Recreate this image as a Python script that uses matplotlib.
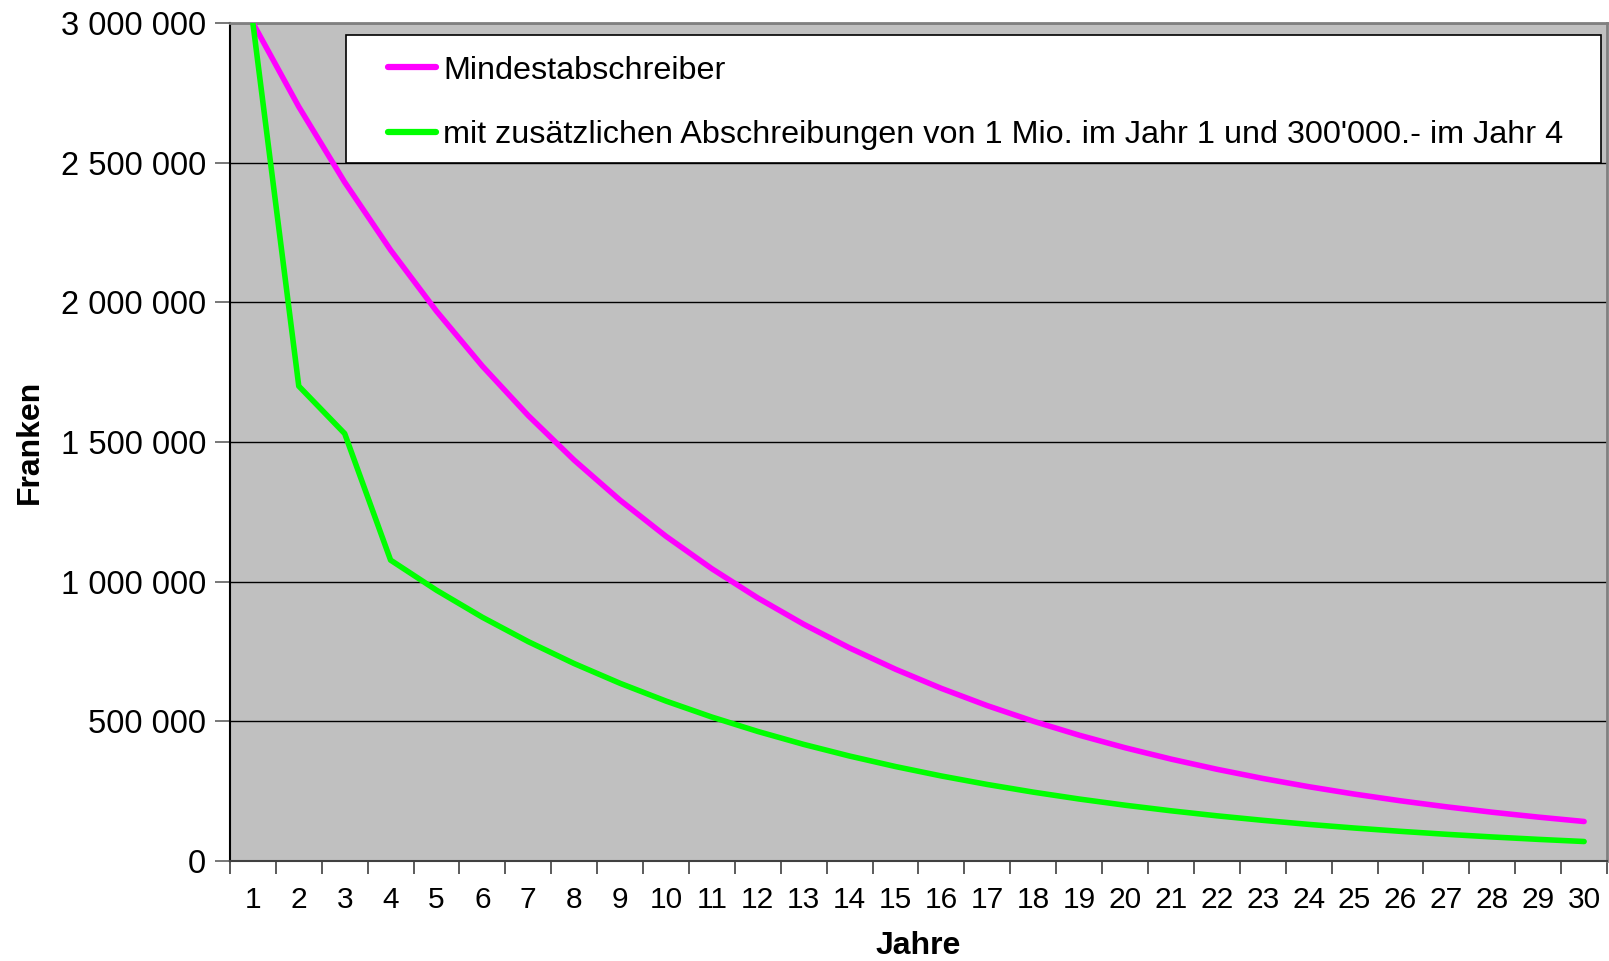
import numpy as np
import matplotlib
matplotlib.use("Agg")
import matplotlib.pyplot as plt
from matplotlib.patches import Rectangle
from matplotlib.ticker import FixedLocator, FuncFormatter, NullFormatter

plt.rcParams['font.family'] = ['Liberation Sans', 'DejaVu Sans']

# Buchwert in Franken pro Jahr
jahre = list(range(1, 31))
mindest = [3000000, 2700000, 2430000, 2187000, 1968300, 1771470, 1594323, 1434891,
           1291401, 1162261, 1046035, 941432, 847288, 762560, 686304, 617673,
           555906, 500315, 450284, 405256, 364730, 328257, 295431, 265888,
           239299, 215369, 193832, 174449, 157004, 141304]
zusaetzlich = [3000000, 1700000, 1530000, 1077000, 969300, 872370, 785133, 706620,
               635958, 572362, 515126, 463613, 417252, 375527, 337974, 304177,
               273759, 246383, 221745, 199570, 179613, 161652, 145487, 130938,
               117844, 106060, 95454, 85908, 77318, 69586]
labels = ["Mindestabschreiber",
          "mit zusätzlichen Abschreibungen von 1 Mio. im Jahr 1 und 300'000.- im Jahr 4"]
farben = ["#FF00FF", "#00FF00"]
y_ticks = [0, 500000, 1000000, 1500000, 2000000, 2500000, 3000000]

fig = plt.figure(figsize=(16.09, 9.61), dpi=100)
ax = fig.add_axes([0.1429, 0.1041, 0.8559, 0.8720])
ax.set_facecolor("#C0C0C0")

for serie, lab, col in zip([mindest, zusaetzlich], labels, farben):
    ax.plot(jahre, serie, color=col, lw=4.0, label=lab,
            solid_capstyle='round', solid_joinstyle='round', zorder=3)

ax.set_xlim(0.5, 30.5)
ax.set_ylim(0, 3000000)

# Kategorienachse: Striche zwischen den Jahren, Beschriftung in der Mitte
ax.xaxis.set_major_locator(FixedLocator(np.arange(0.5, 31, 1)))
ax.xaxis.set_major_formatter(NullFormatter())
ax.xaxis.set_minor_locator(FixedLocator(jahre))
ax.set_xticklabels([str(j) for j in jahre], minor=True)
ax.tick_params(axis='x', which='major', length=9, width=1.2, color='#404040', direction='out')
ax.tick_params(axis='x', which='minor', length=0, pad=18, labelsize=21.5)

ax.set_yticks(y_ticks)
ax.yaxis.set_major_formatter(FuncFormatter(lambda v, p: f"{int(v):,}".replace(",", " ")))
ax.tick_params(axis='y', length=11, width=1.2, color='#606060', pad=6, labelsize=23.5)

ax.grid(axis='y', color='black', lw=1.0, zorder=1)
ax.set_axisbelow(True)

ax.spines['left'].set_color('black')
ax.spines['left'].set_linewidth(1.5)
ax.spines['bottom'].set_color('#404040')
ax.spines['bottom'].set_linewidth(1.5)
for s in ['top', 'right']:
    ax.spines[s].set_color('#808080')
    ax.spines[s].set_linewidth(2)

ax.set_xlabel("Jahre", fontsize=23, fontweight='bold', va='center')
ax.set_ylabel("Franken", fontsize=23, fontweight='bold', va='center')
ax.xaxis.set_label_coords(0.5, -0.102)
ax.yaxis.set_label_coords(-0.145, 0.5)

# Legendenrahmen separat, damit die Linienmuster eingerückt sitzen
ax.add_patch(Rectangle((0.0842, 0.833), 0.9114, 0.1527, transform=ax.transAxes,
                       facecolor='white', edgecolor='black', lw=1.2, zorder=4))
leg = ax.legend(loc='upper left', bbox_to_anchor=(0.1147, 0.961),
                fontsize=23.3, frameon=False, borderpad=0, labelspacing=1.06,
                handlelength=1.5, handletextpad=0.2, borderaxespad=0)
for h in leg.get_lines():
    h.set_linewidth(4.5)
    h.set_solid_capstyle('round')
leg.set_zorder(5)

fig.savefig("out.png", dpi=100)
